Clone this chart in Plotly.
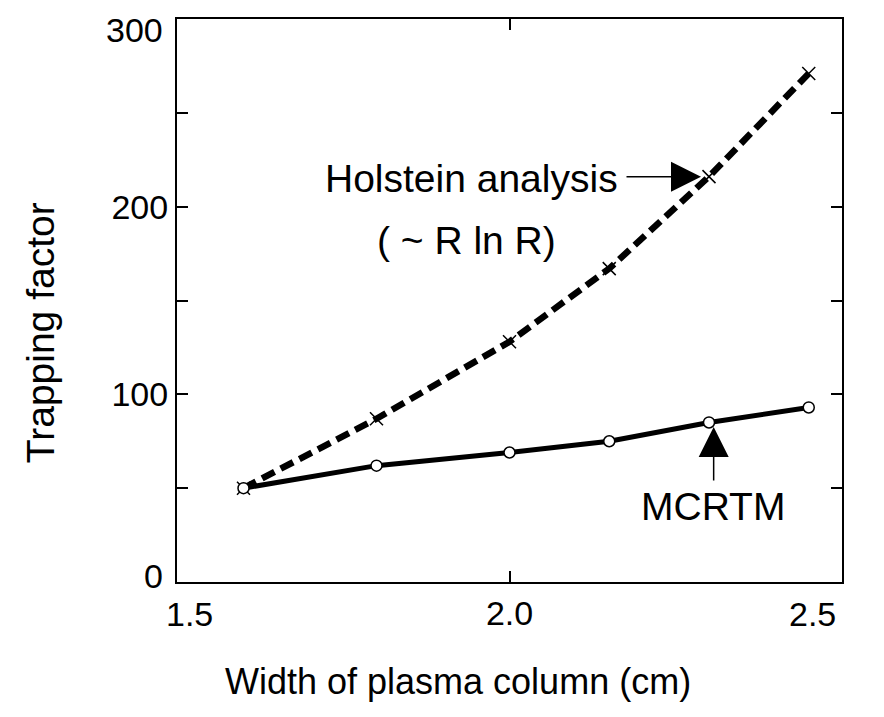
import plotly.graph_objects as go

# ---- data ----
width_cm = [1.6, 1.8, 2.0, 2.15, 2.3, 2.45]
holstein = [50, 87, 128, 167, 216, 271]
mcrtm = [50, 62, 69, 75, 85, 93]

x_ticks = [1.5, 2.0, 2.5]
x_ticktext = ["1.5", "2.0", "2.5"]
y_ticks = [0, 50, 100, 150, 200, 250, 300]
y_ticktext = ["0", "", "100", "", "200", "", "300"]

FONT = "Liberation Sans, Arial, sans-serif"
TICK_SIZE = 34

fig = go.Figure()
fig.add_trace(go.Scatter(
    x=width_cm, y=holstein, mode="lines+markers", name="Holstein analysis",
    line=dict(color="black", width=6.5, dash="14px,7px"),
    marker=dict(symbol="x-thin", size=13, color="black",
                line=dict(color="black", width=1.5)),
))
fig.add_trace(go.Scatter(
    x=width_cm, y=mcrtm, mode="lines+markers", name="MCRTM",
    line=dict(color="black", width=5),
    marker=dict(symbol="circle", size=11, color="white",
                line=dict(color="black", width=1.5)),
))

fig.update_layout(
    width=884, height=717,
    margin=dict(l=177, r=42, t=19, b=135),
    plot_bgcolor="white", paper_bgcolor="white",
    showlegend=False,
    font=dict(family=FONT, size=TICK_SIZE, color="black"),
)
axis_common = dict(
    ticks="inside", ticklen=11, tickwidth=1.5, tickcolor="black",
    showline=True, linecolor="black", linewidth=2, mirror="ticks",
    showgrid=False, zeroline=False,
    tickfont=dict(family=FONT, size=TICK_SIZE, color="black"),
)
# the end labels of each axis are drawn pulled inward (as in the reference)
x_axis_text = ["" if i in (0, len(x_ticks) - 1) else t for i, t in enumerate(x_ticktext)]
y_axis_text = ["" if i in (0, len(y_ticks) - 1) else t for i, t in enumerate(y_ticktext)]
fig.update_xaxes(range=[1.5, 2.5], tickvals=x_ticks, ticktext=x_axis_text, **axis_common)
fig.update_yaxes(range=[0, 300], tickvals=y_ticks, ticktext=y_axis_text, **axis_common)

tick_font = dict(family=FONT, size=TICK_SIZE, color="black")
annotations = []
for v, t, xs in [(x_ticks[0], x_ticktext[0], 12), (x_ticks[-1], x_ticktext[-1], -30)]:
    annotations.append(dict(text=t, x=v, y=0, xref="x", yref="paper",
                            xanchor="center", yanchor="top", xshift=xs, yshift=-11,
                            showarrow=False, font=tick_font))
for v, t, ys in [(y_ticks[0], y_ticktext[0], 6), (y_ticks[-1], y_ticktext[-1], -11)]:
    annotations.append(dict(text=t, x=0, y=v, xref="paper", yref="y",
                            xanchor="right", yanchor="middle", xshift=-12, yshift=ys,
                            showarrow=False, font=tick_font))

ann_font = dict(family=FONT, size=39, color="black")
annotations += [
    dict(text="Holstein analysis", x=2.166, y=215, xref="x", yref="y",
         xanchor="right", yanchor="middle", showarrow=False, font=ann_font),
    dict(text="( ~ R ln R)", x=1.936, y=182, xref="x", yref="y",
         xanchor="center", yanchor="middle", showarrow=False, font=ann_font),
    dict(text="MCRTM", x=2.306, y=40, xref="x", yref="y",
         xanchor="center", yanchor="middle", showarrow=False, font=ann_font),
    dict(text="", x=2.3, y=216, xref="x", yref="y", showarrow=True,
         ax=-84, ay=0, arrowhead=2, arrowsize=4, arrowwidth=1.5,
         arrowcolor="black", standoff=8),
    dict(text="", x=2.307, y=84.7, xref="x", yref="y", showarrow=True,
         ax=0, ay=59, arrowhead=2, arrowsize=4, arrowwidth=1.5,
         arrowcolor="black", standoff=4),
    dict(text="Width of plasma column (cm)", x=(458 - 177) / 665, y=-0.176,
         xref="paper", yref="paper", xanchor="center", yanchor="middle",
         showarrow=False, font=dict(family=FONT, size=36, color="black")),
    dict(text="Trapping factor", x=-0.206, y=0.442, xref="paper", yref="paper",
         xanchor="center", yanchor="middle", textangle=-90, showarrow=False,
         font=dict(family=FONT, size=39, color="black")),
]
fig.update_layout(annotations=annotations)

fig.write_html("out.html")
